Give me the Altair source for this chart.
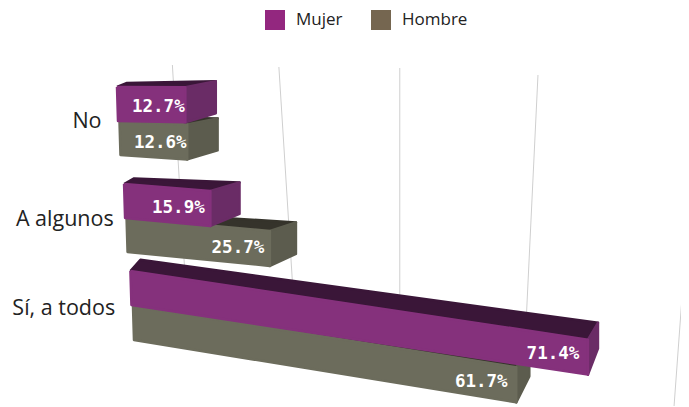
import altair as alt
import pandas as pd

# ---- values
categories = ["No", "A algunos", "Sí, a todos"]
mujer = [12.7, 15.9, 71.4]
hombre = [12.6, 25.7, 61.7]
series_names = ["Mujer", "Hombre"]
grid_ticks = [0, 20, 40, 60, 80]

# ---- styles
legend_colors = ["#93277f", "#756650"]
front = {"Mujer": "#85317c", "Hombre": "#6c6c5c"}
side = {"Mujer": "#6a2c66", "Hombre": "#5c5c4e"}
top = {"Mujer": "#3a1638", "Hombre": "#35332b"}

# ---- perspective model of the 3D scene (screen units)
row_top = {"No": {"Mujer": 87, "Hombre": 121}, "A algunos": {"Mujer": 184, "Hombre": 218},
           "Sí, a todos": {"Mujer": 271, "Hombre": 306}}
row_tilt = {"No": {"Mujer": 0.005, "Hombre": 0.05}, "A algunos": {"Mujer": 0.08, "Hombre": 0.09},
            "Sí, a todos": {"Mujer": 0.15, "Hombre": 0.16}}
rise = {"No": (5, 3), "A algunos": (7, 6), "Sí, a todos": (14, 20)}
label_back = {"No": 27, "A algunos": 32, "Sí, a todos": 35}
BAR_H = 34


def span(v):
    return 5.2 * v / (1 - 0.00264 * v)


def left(y):
    return 117 + 0.073 * (y - 87)


def depth(x):
    return max(10, 26 - 0.0526 * (x - 270))


def wall(g):
    return 172.5 + 5.0 * g / (1 - 0.0030 * g)


grid_lean = [0.06, 0.063, 0.0, -0.048, -0.073]
grid_top = [65, 67, 68, 75, 148]
grid_bottom = [270, 280, 300, 320, 407]
label_gap = [-18, -13, -18]
label_mid = [122, 220, 309]

poly, labels = [], []
for cat, m, h in zip(categories, mujer, hombre):
    for name, v in (("Hombre", h), ("Mujer", m)):
        yt = row_top[cat][name]
        xl = left(yt)
        xr = xl + span(v)
        L = xr - xl
        s = row_tilt[cat][name]
        ytr, ybl, ybr = yt + s * L, yt + BAR_H, yt + BAR_H + s * L + 1
        d = depth(xr)
        up1, up2 = rise[cat]
        faces = {
            "top": [(xl, yt), (xl + 10, yt - up1 * 0.8), (xr + d, ytr - up1 - up1 * 0.2), (xr, ytr)],
            "side": [(xr, ytr), (xr + d, ytr - up1 - up1 * 0.2), (xr + d, ybr - up2 - 6), (xr, ybr)],
            "front": [(xl, yt), (xr, ytr), (xr, ybr), (xl + 1, ybl)],
        }
        for face, pts in faces.items():
            for i, (px, py) in enumerate(pts + pts[:1]):
                poly.append(dict(bar=f"{cat}-{name}", series=name, face=face, i=i, sx=px, sy=py))
        lx = xr - label_back[cat]
        labels.append(dict(sx=lx, sy=yt + BAR_H / 2 + s * (lx - xl) + 3, text=f"{v}%"))

grid = []
for g, lean, t, b in zip(grid_ticks, grid_lean, grid_top, grid_bottom):
    for y in (t, b):
        grid.append(dict(g=g, sx=wall(g) + lean * (y - 67), sy=y))

cat_labels = [dict(text=c, sx=left(y) + gap, sy=y) for c, y, gap in zip(categories, label_mid, label_gap)]

X = alt.X("sx:Q", axis=None, scale=alt.Scale(domain=[8, 681], nice=False, zero=False))
Y = alt.Y("sy:Q", axis=None, scale=alt.Scale(domain=[406, 8], nice=False, zero=False))
polys = pd.DataFrame(poly)

grid_layer = alt.Chart(pd.DataFrame(grid)).mark_line(color="#cfcfcf", strokeWidth=1).encode(
    x=X, y=Y, detail="g:N")

layers = [grid_layer]
for name in ("Hombre", "Mujer"):
    for face, pal in (("top", top), ("side", side), ("front", front)):
        sub = polys[(polys.series == name) & (polys.face == face)]
        layers.append(
            alt.Chart(sub).mark_line(fill=pal[name], stroke=pal[name], strokeWidth=2.5, strokeJoin="round").encode(
                x=X, y=Y, detail="bar:N", order="i:Q"))

value_text = alt.Chart(pd.DataFrame(labels)).mark_text(
    font="DejaVu Sans Mono", fontWeight="bold", fontSize=17.5, color="white", align="center", baseline="middle"
).encode(x=X, y=Y, text="text:N")

cat_text = alt.Chart(pd.DataFrame(cat_labels)).mark_text(
    font="Open Sans", fontSize=21.5, color="#222222", align="right", baseline="middle"
).encode(x=X, y=Y, text="text:N")

legend_layer = alt.Chart(pd.DataFrame({"series": series_names, "sx": [0, 0], "sy": [0, 0]})).transform_filter(
    "datum.sx > 1"
).mark_square().encode(
    x=X, y=Y,
    color=alt.Color("series:N", scale=alt.Scale(domain=series_names, range=legend_colors),
                    legend=alt.Legend(orient="none", legendX=257, legendY=2, direction="horizontal", title=None,
                                      symbolType="square", symbolSize=400, symbolStrokeWidth=0, symbolOpacity=1,
                                      labelFont="Open Sans", labelFontSize=17, labelColor="#222222",
                                      labelOffset=11, columnPadding=28, columns=2)),
)

chart = alt.layer(*layers, value_text, cat_text, legend_layer).properties(
    width=673, height=398, padding=0, autosize=alt.AutoSizeParams(type="none")
).configure_view(stroke=None)

chart.save("out.html", embed_options={"renderer": "svg", "actions": False})
